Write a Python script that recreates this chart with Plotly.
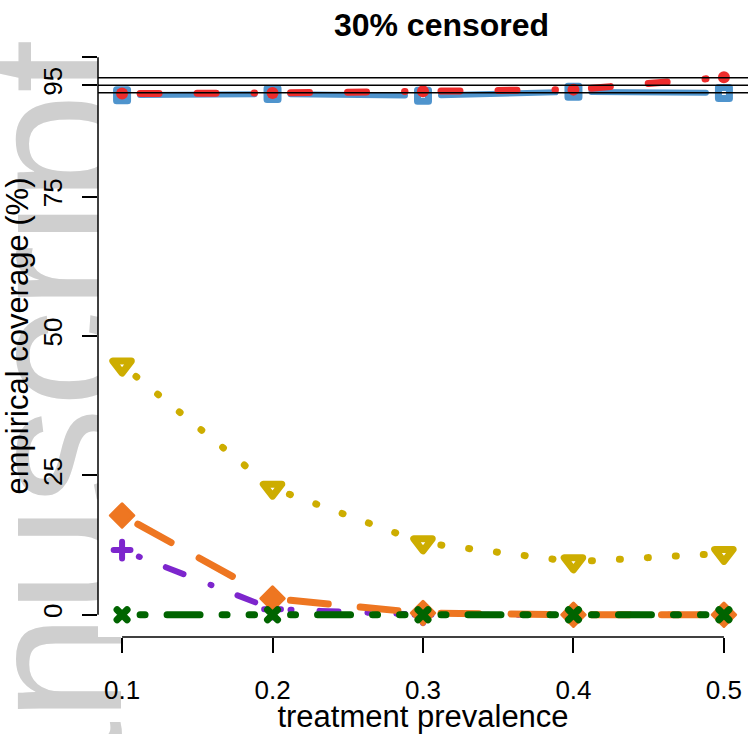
import math
import plotly.graph_objects as go

# ---- data -------------------------------------------------------------
prevalence = [0.1, 0.2, 0.3, 0.4, 0.5]
x_ticklabels = ["0.1", "0.2", "0.3", "0.4", "0.5"]

cov_blue = [93.2, 93.4, 93.1, 93.8, 93.6]
cov_red = [93.5, 93.6, 93.9, 94.2, 96.4]
cov_gold = [44.8, 22.7, 12.9, 9.5, 11.0]
cov_purple = [11.6, 1.0, 0.0, 0.0, 0.0]
cov_orange = [17.8, 2.9, 0.3, 0.0, 0.0]
cov_green = [0.0, 0.0, 0.0, 0.0, 0.0]

nominal_band = [93.65, 95.0, 96.35]
y_ticks = [0, 25, 50, 75, 95, 100]
y_ticklabels = ["0", "25", "50", "75", "95", ""]

# ---- geometry ---------------------------------------------------------
W, H = 748, 734
MARGIN = dict(l=98, r=0, t=35, b=97)
PLOT_W = W - MARGIN["l"] - MARGIN["r"]
PLOT_H = H - MARGIN["t"] - MARGIN["b"]
X_RANGE = [0.084, 0.516]
Y_RANGE = [-4, 104]
PX_X = PLOT_W / (X_RANGE[1] - X_RANGE[0])
PX_Y = PLOT_H / (Y_RANGE[1] - Y_RANGE[0])
SEG_GAP = 18  # pixels left open around each point (base-R type="b")

FONT = "Liberation Sans, Arial, Helvetica, sans-serif"


def trimmed(x0, y0, x1, y1, gap=SEG_GAP):
    """Shorten a segment by `gap` pixels at both ends, in data units."""
    dx, dy = (x1 - x0) * PX_X, (y1 - y0) * PX_Y
    length = math.hypot(dx, dy)
    if length <= 2 * gap:
        return None
    f = gap / length
    return ([x0 + (x1 - x0) * f, x1 - (x1 - x0) * f],
            [y0 + (y1 - y0) * f, y1 - (y1 - y0) * f])


series = [
    dict(y=cov_blue, color="#4F94CD", width=6, dash="solid",
         marker=dict(symbol="square-open", size=11, line_width=7)),
    dict(y=cov_red, color="#EE2C2C", width=7, dash="19px,38px",
         marker=dict(symbol="circle", size=12, line_width=0)),
    dict(y=cov_gold, color="#CDAD00", width=7, dash="1px,27px",
         marker=dict(symbol="triangle-down-open", size=16, line_width=7)),
    dict(y=cov_purple, color="#7D26CD", width=6, dash="1px,28px,19px,29px",
         marker=dict(symbol="cross-thin", size=12, line_width=6)),
    dict(y=cov_orange, color="#EE7621", width=7, dash="38px,32px",
         marker=dict(symbol="diamond", size=18, line_width=3)),
    dict(y=cov_green, color="#006400", width=7, dash="5px,22px,33px,22px",
         marker=dict(symbol="x-thin", size=10, line_width=7)),
]

fig = go.Figure()

for s in series:
    ys = s["y"]
    for i in range(len(prevalence) - 1):
        seg = trimmed(prevalence[i], ys[i], prevalence[i + 1], ys[i + 1])
        if seg is None:
            continue
        fig.add_trace(go.Scatter(
            x=seg[0], y=seg[1], mode="lines",
            line=dict(color=s["color"], width=s["width"], dash=s["dash"]),
            showlegend=False, hoverinfo="skip"))
    m = s["marker"]
    fig.add_trace(go.Scatter(
        x=prevalence, y=ys, mode="markers",
        marker=dict(symbol=m["symbol"], size=m["size"], color=s["color"],
                    line=dict(color=s["color"], width=m["line_width"])),
        showlegend=False))


def px_to_paper(px, py):
    return (px - MARGIN["l"]) / PLOT_W, (H - MARGIN["b"] - py) / PLOT_H


shapes = []
# faint watermark in the left margin, hidden behind the plotting region
wm_cx, wm_cy = 35, 516
(wx0, wy0), (wx1, wy1) = px_to_paper(wm_cx - 5, wm_cy + 5), px_to_paper(wm_cx + 5, wm_cy - 5)
shapes.append(dict(
    type="rect", xref="paper", yref="paper", layer="below",
    x0=wx0, x1=wx1, y0=wy0, y1=wy1,
    line=dict(width=0), fillcolor="rgba(0,0,0,0)",
    label=dict(text="Manuscript", textangle=-90, textposition="middle center",
               font=dict(family=FONT, size=195, color="#cfcfcf"))))
shapes.append(dict(
    type="rect", xref="paper", yref="paper", layer="below",
    x0=0, x1=1, y0=0, y1=1, line=dict(width=0), fillcolor="white"))

# nominal coverage and Monte-Carlo limits
for v in nominal_band:
    shapes.append(dict(type="line", xref="paper", yref="y", x0=0, x1=1,
                       y0=v, y1=v, line=dict(color="black", width=1.5)))

# axis lines spanning only the tick range
shapes.append(dict(type="line", xref="x", yref="paper",
                   x0=prevalence[0], x1=prevalence[-1], y0=0, y1=0,
                   line=dict(color="black", width=1.5)))
shapes.append(dict(type="line", xref="paper", yref="y",
                   x0=0, x1=0, y0=y_ticks[0], y1=y_ticks[-1],
                   line=dict(color="black", width=1.5)))

fig.update_layout(
    width=W, height=H, margin=MARGIN,
    paper_bgcolor="white", plot_bgcolor="white",
    font=dict(family=FONT, size=26, color="black"),
    showlegend=False, shapes=shapes,
    title=dict(text="<b>30% censored</b>", font=dict(size=32, family=FONT),
               x=441.5 / W, xref="container", xanchor="center",
               y=1 - 25 / H, yref="container", yanchor="middle"),
    xaxis=dict(range=X_RANGE, tickvals=prevalence, ticktext=x_ticklabels,
               ticks="outside", ticklen=15, tickwidth=1.5, tickcolor="black",
               ticklabelstandoff=15, showline=False, showgrid=False,
               zeroline=False, automargin=False,
               title=dict(text="treatment prevalence", standoff=9)),
    yaxis=dict(range=Y_RANGE, tickvals=y_ticks, ticktext=y_ticklabels,
               ticks="outside", ticklen=15, tickwidth=1.5, tickcolor="black",
               tickangle=-90, ticklabelstandoff=10, showline=False,
               showgrid=False, zeroline=False, automargin=False,
               title=dict(text="empirical coverage (%)", standoff=12)),
)

round_caps = """
document.querySelectorAll('.scatterlayer path').forEach(function(p){
  p.style.strokeLinecap = 'round';
  p.style.strokeLinejoin = 'round';
});
"""

fig.write_html("out.html", post_script=round_caps)
